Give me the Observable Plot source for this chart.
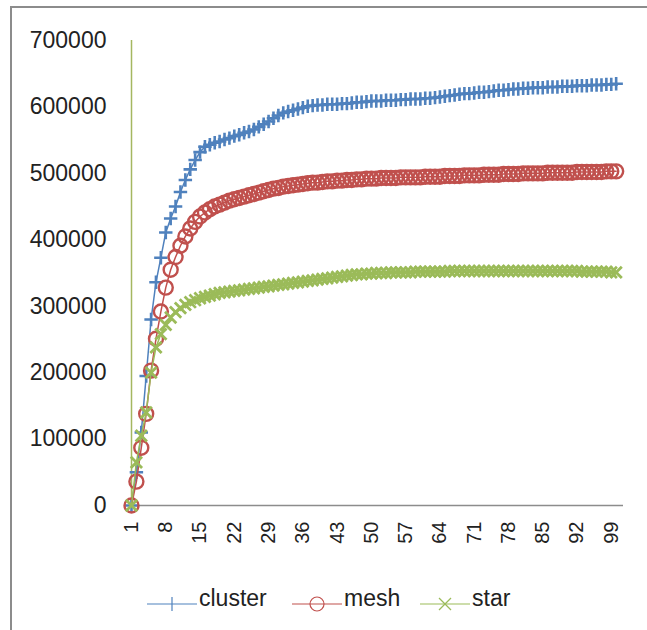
<!DOCTYPE html>
<html><head><meta charset="utf-8">
<script src="https://cdn.jsdelivr.net/npm/d3@7"></script>
<script src="https://cdn.jsdelivr.net/npm/@observablehq/plot@0.6"></script>
<style>
body{margin:0;background:#fff;}
#wrap{position:relative;width:647px;height:630px;overflow:hidden;font-family:"Liberation Sans",Arial,sans-serif;background:#fff;}
#frame{position:absolute;left:10px;top:6px;width:640px;height:630px;border-left:2px solid #8c8c8c;border-top:2px solid #8c8c8c;}
#chart{position:absolute;left:0;top:0;}
#legend{position:absolute;left:0;top:578px;width:647px;height:40px;}
.item{position:absolute;top:0;display:flex;align-items:center;height:40px;font-size:23px;color:#222;white-space:nowrap;}
.item svg{margin-right:2px;}
</style></head><body>
<div id="wrap"><div id="frame"></div><div id="chart"></div><div id="legend"></div></div>
<script>
const categories = Array.from({length: 100}, (_, i) => i + 1);
const xTicks = [1, 8, 15, 22, 29, 36, 43, 50, 57, 64, 71, 78, 85, 92, 99];
const yTicks = [0, 100000, 200000, 300000, 400000, 500000, 600000, 700000];
const seriesNames = ["cluster", "mesh", "star"];
const seriesColors = ["#4f81bd", "#c0504d", "#9bbb59"];

const cluster = [
0,50000,110000,195000,280000,336000,373000,411000,432000,450000,
472000,490000,506000,520000,532000,540000,543000,546000,548000,551000,
553000,556000,558000,561000,563000,566000,570000,574000,578000,583000,
587000,591000,593000,595000,597000,599000,601000,602000,603000,603000,
604000,604000,604000,605000,605000,606000,607000,607000,608000,609000,
609000,609000,610000,610000,610000,611000,611000,612000,612000,612000,
613000,613000,614000,615000,616000,617000,618000,619000,620000,620000,
621000,622000,622000,623000,624000,625000,625000,626000,627000,627000,
628000,628000,629000,629000,629000,630000,630000,630000,631000,631000,
631000,632000,632000,632000,633000,633000,633000,634000,634000,635000];

const mesh = [
0,36000,87000,138000,203000,251000,292000,328000,355000,374000,
391000,405000,417000,427000,435000,441000,446000,450000,453000,456000,
459000,461000,463000,465000,467000,469000,471000,473000,475000,477000,
478000,480000,481000,482000,483000,484000,485000,486000,486000,487000,
488000,488000,489000,489000,490000,490000,491000,491000,492000,492000,
492000,493000,493000,493000,493000,494000,494000,494000,494000,494000,
495000,495000,495000,495000,496000,496000,496000,496000,497000,497000,
497000,497000,498000,498000,498000,498000,499000,499000,499000,499000,
500000,500000,500000,500000,500000,501000,501000,501000,501000,501000,
501000,502000,502000,502000,502000,502000,502000,503000,503000,503000];

const star = [
0,65000,105000,140000,200000,238000,258000,272000,283000,291000,
297000,302000,306000,309000,312000,314000,316000,318000,320000,321000,
322000,323000,324000,325000,326000,327000,328000,329000,330000,331000,
332000,333000,334000,335000,336000,337000,338000,339000,340000,341000,
342000,343000,344000,345000,346000,347000,348000,348000,349000,349000,
350000,350000,350000,351000,351000,351000,351000,351000,352000,352000,
352000,352000,352000,352000,352000,353000,353000,353000,353000,353000,
353000,353000,353000,353000,353000,353000,353000,353000,353000,353000,
353000,353000,353000,353000,353000,353000,353000,353000,353000,353000,
353000,353000,352000,352000,352000,352000,352000,352000,351000,351000];

const seriesValues = [cluster, mesh, star];
const symbols = ["plus", "circle", "times"];
const radii = [4.4, 7, 5.2];
const widths = [2.6, 2.4, 2.8];

const marks = [
  Plot.ruleY([0], {x1: 1, x2: 101.5, stroke: "#8c8c8c", strokeWidth: 1.5}),
  Plot.ruleX([1], {y1: 0, y2: 700000, stroke: "#a5b760", strokeWidth: 1.5}),
  Plot.axisY(yTicks, {tickSize: 0, tickPadding: 25, fontSize: 23, fill: "#222", tickFormat: d => String(d), label: null}),
  Plot.axisX(xTicks, {tickSize: 0, tickPadding: 16, fontSize: 20, fill: "#222", tickRotate: -90, tickFormat: d => String(d), label: null})
];
seriesNames.forEach((name, s) => {
  const rows = seriesValues[s].map((v, i) => ({x: categories[i], y: v}));
  marks.push(Plot.line(rows, {x: "x", y: "y", stroke: seriesColors[s], strokeWidth: 1.5}));
  marks.push(Plot.dot(rows, {x: "x", y: "y", symbol: symbols[s], r: radii[s], stroke: seriesColors[s], strokeWidth: widths[s], fill: "none"}));
});

const chart = Plot.plot({
  width: 647, height: 565,
  marginLeft: 131, marginRight: 24, marginTop: 40, marginBottom: 60,
  x: {type: "linear", domain: [1, 101.5]},
  y: {domain: [0, 700000]},
  style: {fontFamily: "'Liberation Sans', Arial, sans-serif", background: "transparent", overflow: "visible"},
  marks
});
document.getElementById("chart").appendChild(chart);

// legend
const legendLeft = [147, 292, 420];
const legend = document.getElementById("legend");
seriesNames.forEach((name, s) => {
  const item = document.createElement("div");
  item.className = "item";
  item.style.left = legendLeft[s] + "px";
  const c = seriesColors[s];
  let marker;
  if (s === 0) marker = `<line x1="25" y1="19" x2="25" y2="33" stroke="${c}" stroke-width="1.2"/>`;
  else if (s === 1) marker = `<circle cx="25" cy="26" r="7" fill="none" stroke="${c}" stroke-width="1.2"/>`;
  else marker = `<line x1="19" y1="20" x2="31" y2="32" stroke="${c}" stroke-width="1.2"/><line x1="19" y1="32" x2="31" y2="20" stroke="${c}" stroke-width="1.2"/>`;
  item.innerHTML = `<svg width="50" height="40"><line x1="0" y1="26" x2="50" y2="26" stroke="${c}" stroke-width="1.2"/>${marker}</svg><span>${name}</span>`;
  legend.appendChild(item);
});
</script>
</body></html>
